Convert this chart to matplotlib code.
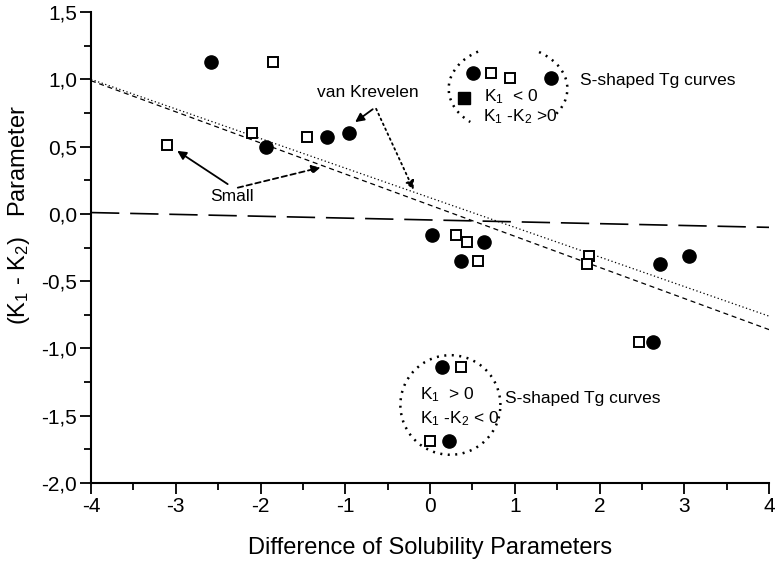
import matplotlib
matplotlib.use("Agg")
import matplotlib.pyplot as plt
from matplotlib.patches import Arc
from matplotlib.ticker import FuncFormatter, MultipleLocator

# filled circles, open squares and the single filled square
circle_x = [-2.58, -1.94, -1.22, -0.96, 0.51, 1.43, 0.02, 0.64, 0.36, 2.71, 3.05, 2.63, 0.14, 0.22]
circle_y = [1.13, 0.50, 0.57, 0.60, 1.05, 1.01, -0.16, -0.21, -0.35, -0.37, -0.31, -0.95, -1.14, -1.69]
square_x = [-1.85, -3.10, -2.10, -1.45, 0.72, 0.94, 0.31, 0.44, 0.56, 1.87, 1.85, 2.46, 0.37, 0.00]
square_y = [1.13, 0.51, 0.60, 0.57, 1.05, 1.01, -0.16, -0.21, -0.35, -0.31, -0.37, -0.95, -1.14, -1.69]
filled_square_x = [0.40]
filled_square_y = [0.86]

# straight lines, given by their ends at x = -4 and x = 4
line_x = [-4, 4]
zero_line_y = [0.01, -0.10]
krevelen_y = [1.00, -0.76]
small_y = [0.99, -0.86]

x_ticks = [-4, -3, -2, -1, 0, 1, 2, 3, 4]
y_ticks = [-2.0, -1.5, -1.0, -0.5, 0.0, 0.5, 1.0, 1.5]

INK = "black"

plt.rcParams["font.family"] = ["Liberation Sans", "DejaVu Sans"]
plt.rcParams["mathtext.fontset"] = "custom"
plt.rcParams["mathtext.rm"] = "Liberation Sans"
plt.rcParams["mathtext.it"] = "Liberation Sans:italic"

fig = plt.figure(figsize=(7.75, 5.61), dpi=100)
ax = fig.add_axes([0.1174, 0.139, 0.875, 0.8395])

ax.plot(line_x, zero_line_y, color=INK, lw=1.2, dashes=(17, 6.5))
ax.plot(line_x, krevelen_y, color=INK, lw=0.9, dashes=(1, 2))
ax.plot(line_x, small_y, color=INK, lw=0.9, dashes=(4, 3))

ax.plot(circle_x, circle_y, "o", ms=9.5, color=INK, mec=INK)
ax.plot(square_x, square_y, "s", ms=7.5, mfc="white", mec=INK, mew=1.4)
ax.plot(filled_square_x, filled_square_y, "s", ms=8, color=INK)

# dotted rings around the S-shaped groups (the upper one is open top and bottom)
ring = dict(color=INK, lw=1.8, ls=(0, (0.8, 2.2)))
ax.add_patch(Arc((0.92, 0.93), 1.40, 0.64, theta1=-18, theta2=38, **ring))
ax.add_patch(Arc((0.92, 0.93), 1.40, 0.64, theta1=142, theta2=209, **ring))
ax.add_patch(Arc((0.24, -1.42), 1.18, 0.74, theta1=0, theta2=360, **ring))

txt = dict(fontsize=12.5, color=INK)
ax.text(0.64, 0.87, "K$_1$  < 0", va="center", **txt)
ax.text(0.63, 0.72, "K$_1$ -K$_2$ >0", va="center", **txt)
ax.text(1.77, 0.99, "S-shaped Tg curves", va="center", **txt)
ax.text(-0.12, -1.34, "K$_1$  > 0", va="center", **txt)
ax.text(-0.12, -1.52, "K$_1$ -K$_2$ < 0", va="center", **txt)
ax.text(0.88, -1.37, "S-shaped Tg curves", va="center", **txt)
ax.text(-0.73, 0.90, "van Krevelen", ha="center", va="center", **txt)
ax.text(-2.34, 0.13, "Small", ha="center", va="center", **txt)

solid = dict(arrowstyle="-|>", color=INK, lw=1.3, mutation_scale=13)
ax.annotate("", xy=(-0.91, 0.67), xytext=(-0.65, 0.79), arrowprops=solid)
ax.annotate("", xy=(-0.18, 0.16), xytext=(-0.65, 0.80),
            arrowprops=dict(solid, ls=(0, (1, 2))))
ax.annotate("", xy=(-3.01, 0.48), xytext=(-2.36, 0.21), arrowprops=solid)
ax.annotate("", xy=(-1.26, 0.35), xytext=(-2.30, 0.19),
            arrowprops=dict(solid, ls=(0, (3, 2))))

ax.set_xlim(-4, 4)
ax.set_ylim(-2.0, 1.5)
ax.set_xticks(x_ticks)
ax.set_yticks(y_ticks)
ax.xaxis.set_minor_locator(MultipleLocator(0.5))
ax.yaxis.set_minor_locator(MultipleLocator(0.25))
ax.xaxis.set_major_formatter(FuncFormatter(lambda v, _: f"{v:.0f}".replace("\u2212", "-")))
ax.yaxis.set_major_formatter(FuncFormatter(lambda v, _: f"{v:.1f}".replace(".", ",")))
ax.tick_params(which="major", direction="out", length=8, width=1.3, labelsize=15, colors=INK, pad=2)
ax.tick_params(which="minor", direction="out", length=5, width=1.3)
for side in ("top", "right"):
    ax.spines[side].set_visible(False)
for side in ("left", "bottom"):
    ax.spines[side].set_linewidth(1.5)

ax.set_xlabel("Difference of Solubility Parameters", fontsize=17, labelpad=15)
fig.text(0.024, 1 - 215 / 561, "(K$_1$ - K$_2$)   Parameter", rotation=90,
         ha="center", va="center", fontsize=17)

fig.savefig("out.png", dpi=100, facecolor="white")
